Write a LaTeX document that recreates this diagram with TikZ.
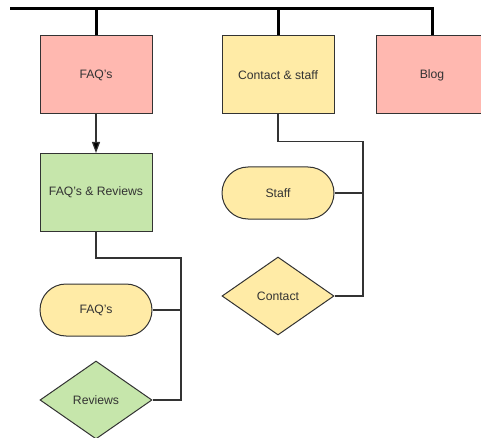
\documentclass[tikz,border=0pt]{standalone}
\usepackage{fontspec}
\setmainfont{Liberation Sans}
\usetikzlibrary{shapes.geometric,arrows.meta}
\definecolor{redfill}{HTML}{FFB8B0}
\definecolor{yelfill}{HTML}{FFEBA6}
\definecolor{grnfill}{HTML}{C6E6AB}
\definecolor{edge}{HTML}{333333}
\begin{document}
\begin{tikzpicture}[x=1pt,y=-1pt,
  every node/.style={font=\fontsize{12.2}{14}\selectfont, text=edge},
  box/.style={draw=edge, line width=1pt, rectangle, minimum width=112pt, minimum height=78pt, inner sep=0pt},
  pill/.style={draw=edge, line width=1pt, rectangle, rounded corners=26pt, minimum width=112pt, minimum height=52pt, inner sep=0pt},
  dia/.style={draw=edge, line width=1pt, diamond, aspect=1.436, minimum width=112pt, minimum height=78pt, inner sep=0pt},
  bus/.style={draw=black, line width=3pt, line join=miter},
  link/.style={draw=edge, line width=1.2pt},
]
\useasboundingbox (0,0) rectangle (481,438);
\clip (0,0) rectangle (481,438);

\coordinate (barL) at (10,9);

\node[box, fill=redfill] (faq) at (96,75) {FAQ's};
\node[box, fill=yelfill] (cs) at (278,75) {Contact \& staff};
\node[box, fill=redfill] (blog) at (432,75) {Blog};

\node[box, fill=grnfill] (fr) at (96,192.5) {FAQ's \& Reviews};
\node[pill, fill=yelfill] (faq2) at (96,310) {FAQ's};
\node[dia, fill=grnfill] (rev) at (96,400) {Reviews};

\node[pill, fill=yelfill] (staff) at (278,193) {Staff};
\node[dia, fill=yelfill] (contact) at (278,296) {Contact};

\draw[bus] (barL) -| (blog.north);
\draw[bus] (faq.north) -- (faq.north |- barL);
\draw[bus] (cs.north) -- (cs.north |- barL);

\draw[link, -{Triangle[length=11pt,width=8pt,fill=black]}] (faq.south) -- (fr.north);

\coordinate (j1) at (181,310);
\draw[link] (fr.south) -- ++(0,26) -| (j1) -- (faq2.east);
\draw[link] (j1) |- (rev.east);

\coordinate (j2) at (363,193);
\draw[link] (cs.south) -- ++(0,27) -| (j2) -- (staff.east);
\draw[link] (j2) |- (contact.east);
\end{tikzpicture}
\end{document}
